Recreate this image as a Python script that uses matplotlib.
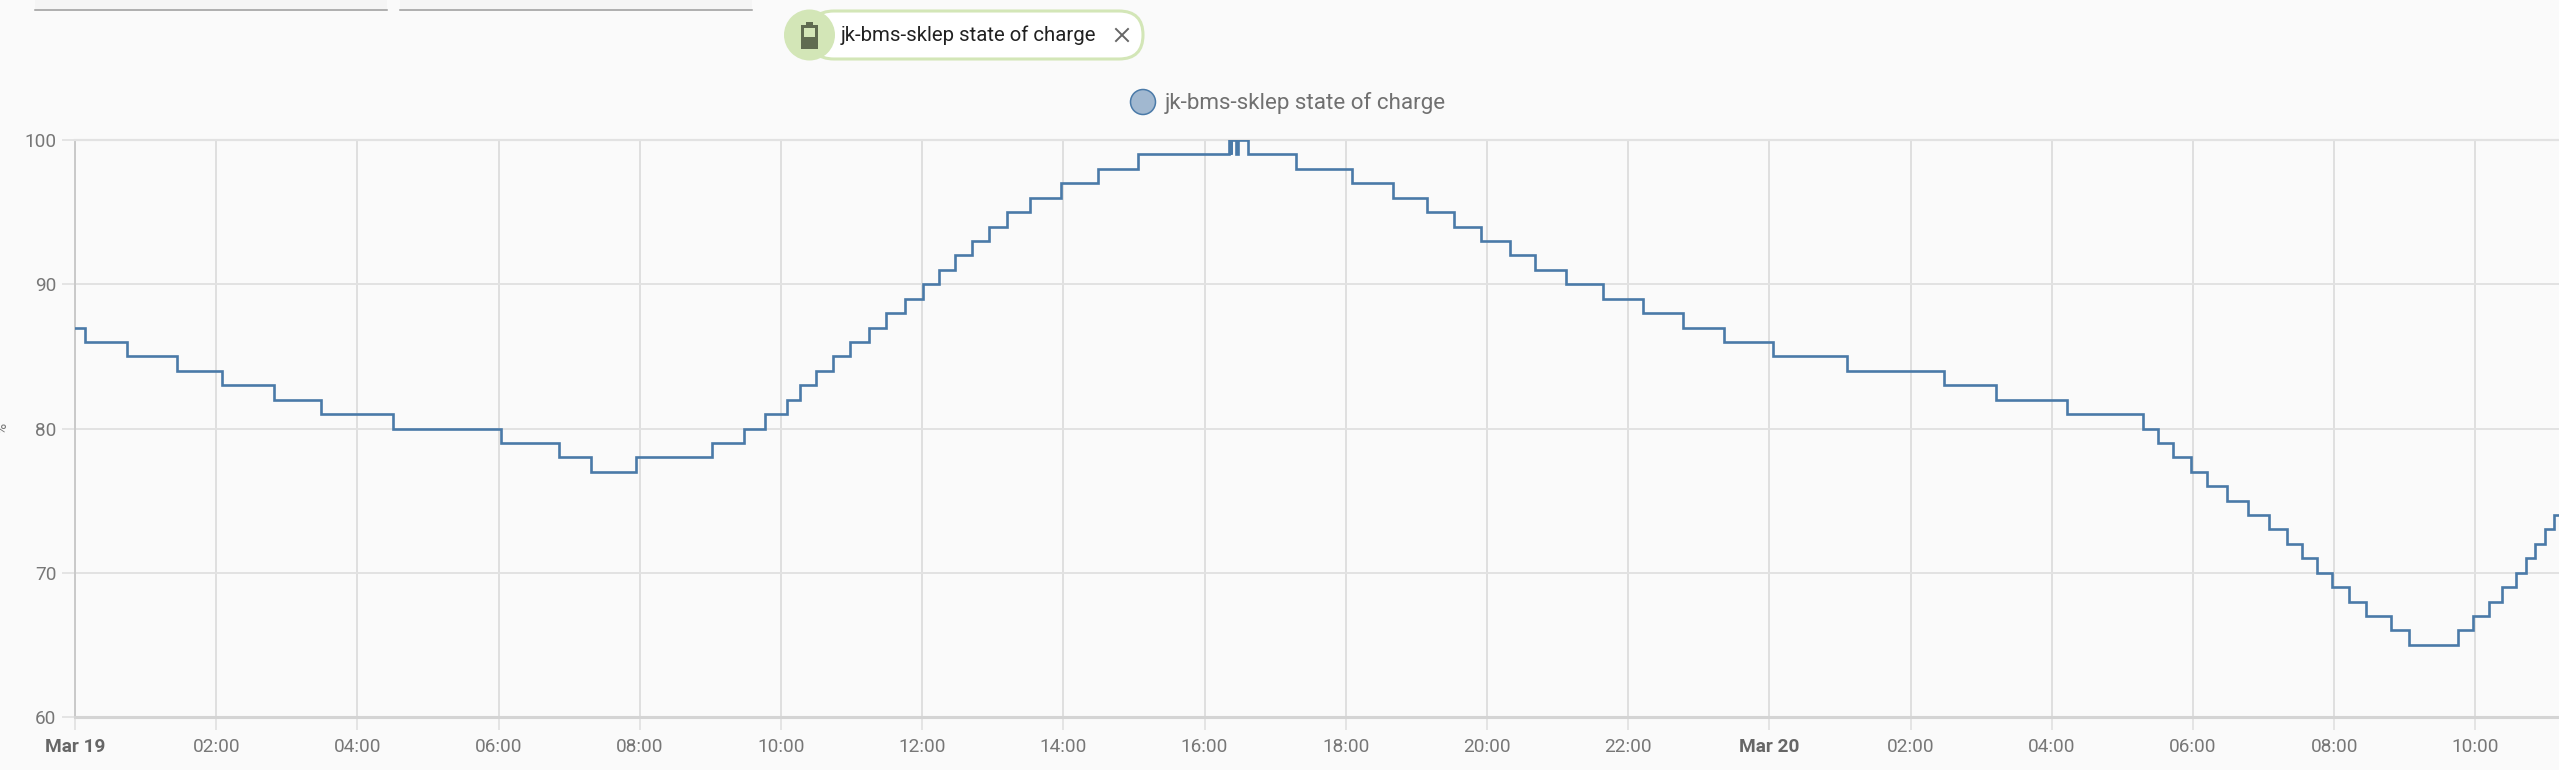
import matplotlib
matplotlib.use('AGG')
import matplotlib.pyplot as plt
from matplotlib.patches import Circle, FancyBboxPatch, Rectangle

plt.rcParams['font.family'] = ['Roboto', 'DejaVu Sans']

# hours since Mar 19 00:00, value holds until the next entry
hours = [0.00, 0.14, 0.73, 1.44, 2.08, 2.82, 3.49, 4.50, 6.03, 6.85, 7.31, 7.94,
         9.02, 9.47, 9.77, 10.08, 10.27, 10.50, 10.74, 10.98, 11.24, 11.49, 11.75,
         12.01, 12.24, 12.46, 12.71, 12.95, 13.20, 13.53, 13.97, 14.49, 15.05,
         16.346, 16.367, 16.381, 16.438, 16.473, 16.61,
         17.29, 18.09, 18.67, 19.15, 19.53, 19.92, 20.32, 20.68, 21.12, 21.65,
         22.21, 22.77, 23.35, 24.05, 25.10, 26.47, 27.21, 28.22, 29.29, 29.51,
         29.71, 29.97, 30.20, 30.48, 30.78, 31.08, 31.33, 31.54, 31.75, 31.97,
         32.21, 32.45, 32.80, 33.06, 33.75, 33.97, 34.19, 34.38, 34.57, 34.72,
         34.84, 34.98, 35.11, 35.19]
charge = [87, 86, 85, 84, 83, 82, 81, 80, 79, 78, 77, 78,
          79, 80, 81, 82, 83, 84, 85, 86, 87, 88, 89,
          90, 91, 92, 93, 94, 95, 96, 97, 98, 99,
          100, 99, 100, 99, 100, 99,
          98, 97, 96, 95, 94, 93, 92, 91, 90, 89,
          88, 87, 86, 85, 84, 83, 82, 81, 80, 79,
          78, 77, 76, 75, 74, 73, 72, 71, 70, 69,
          68, 67, 66, 65, 66, 67, 68, 69, 70, 71,
          72, 73, 74, 74]

tick_hours = list(range(0, 35, 2))
tick_labels = ['Mar 19', '02:00', '04:00', '06:00', '08:00', '10:00', '12:00', '14:00',
               '16:00', '18:00', '20:00', '22:00', 'Mar 20', '02:00', '04:00', '06:00',
               '08:00', '10:00']
y_ticks = [60, 70, 80, 90, 100]
series_name = 'jk-bms-sklep state of charge'

W, H = 2559, 770
BG = '#fafafa'
LINE = '#4a7aa8'
GRID = '#e2e2e2'
LIME = '#d3e6b7'

fig = plt.figure(figsize=(W / 100, H / 100), dpi=100, facecolor=BG)

# plot area
ax = fig.add_axes([75 / W, (H - 717) / H, (W - 75) / W, (717 - 140) / H], facecolor=BG)
ax.step(hours, charge, where='post', color=LINE, lw=1.9, solid_joinstyle='miter', zorder=3)
ax.set_xlim(0, (W - 75) / 70.6)
ax.set_ylim(60, 100)
ax.set_xticks(tick_hours)
ax.set_xticklabels(tick_labels)
ax.set_yticks(y_ticks)
ax.xaxis.grid(True, color='#dddddd', lw=1.3)
ax.yaxis.grid(True, color=GRID, lw=1.4)
ax.set_axisbelow(True)
ax.tick_params(axis='both', length=9.4, width=1.3, color=GRID, labelsize=13.7, labelcolor='#777777')
ax.tick_params(axis='x', pad=5.5)
ax.tick_params(axis='y', pad=4)
for lab, name in zip(ax.get_xticklabels(), tick_labels):
    if name.startswith('Mar'):
        lab.set_fontweight('bold')
        lab.set_color('#666666')
ax.spines['right'].set_visible(False)
ax.spines['top'].set_color(GRID)
ax.spines['top'].set_linewidth(1.6)
ax.spines['left'].set_color('#c9c9c9')
ax.spines['left'].set_linewidth(1.4)
ax.spines['bottom'].set_color('#d4d4d4')
ax.spines['bottom'].set_linewidth(2.2)

# page elements around the chart, in pixels
top = fig.add_axes([0, 0, 1, 1], facecolor='none')
top.set_xlim(0, W)
top.set_ylim(H, 0)
top.axis('off')

for x0, x1 in [(35, 387), (400, 752)]:
    top.add_patch(Rectangle((x0, 0), x1 - x0, 9, fc='#f5f5f5', ec='none'))
    top.plot([x0, x1], [9.5, 9.5], color='#9a9a9a', lw=1.1)

# selected entity chip
top.add_patch(FancyBboxPatch((810, 11), 333, 48, boxstyle='round,pad=0,rounding_size=24',
                             fc='white', ec=LIME, lw=2.2))
top.add_patch(Circle((809.5, 35), 25.5, fc=LIME, ec='none', zorder=3))
top.add_patch(Rectangle((801, 25), 17, 24, fc='#5f6b50', ec='none', zorder=4))
top.add_patch(Rectangle((806, 22), 7, 3, fc='#5f6b50', ec='none', zorder=4))
top.add_patch(Rectangle((804, 28), 10.5, 9, fc=LIME, ec='none', zorder=5))
top.text(841, 35, series_name, fontsize=14.7, color='#212121', va='center', ha='left')
top.plot([1116, 1128], [29, 41], color='#666666', lw=1.4)
top.plot([1116, 1128], [41, 29], color='#666666', lw=1.4)

# legend
top.add_patch(Circle((1143, 102), 12.5, fc='#a1b8d0', ec=LINE, lw=1.1))
top.text(1165, 103, series_name, fontsize=16.15, color='#707070', va='center', ha='left')

# unit label, cut off by the left edge
top.text(2, 428, '%', fontsize=11, color='#777777', rotation=90, va='center', ha='center')

plt.savefig('out.png', dpi=100, facecolor=BG)
